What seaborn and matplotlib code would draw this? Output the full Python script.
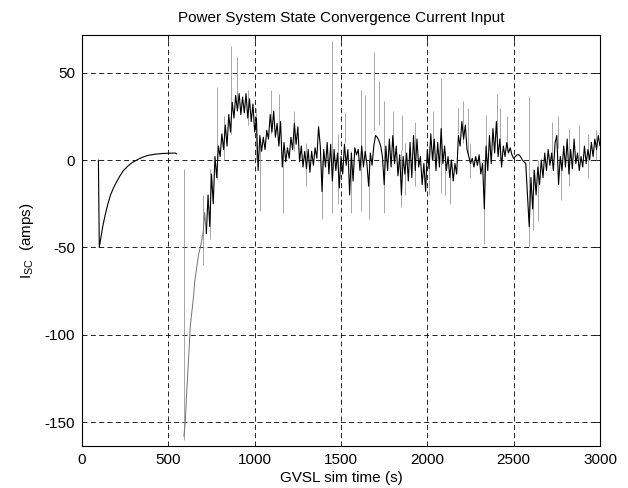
import numpy as np
import pandas as pd
import matplotlib
matplotlib.use("Agg")
import matplotlib.pyplot as plt
import seaborn as sns

# ---- data ----
# segment 1: initial exponential recovery
t_rise = [95, 100, 110, 120, 135, 150, 165, 182, 200, 220, 240, 265, 290, 320,
          350, 380, 420, 460, 500, 540, 548]
i_rise = [0, -50, -44, -38, -31, -25, -20, -16, -12.5, -9, -6, -3.5, -1.5, 0.2,
          1.6, 2.6, 3.3, 3.7, 3.9, 4.0, 3.5]

# segment 2: large transient and recovery (sparse, faint in the reference)
t_trans = [590, 598, 605, 617, 627, 636, 646, 652, 665, 675, 685, 695, 703, 710, 720]
i_trans = [-158, -150, -135, -114, -95, -87, -78, -70, -61, -54, -50, -45, -40, -30, -42]

# segment 3: noisy convergence, sampled every 10 s from 720 s to 3000 s
t_noise = list(range(720, 3001, 10))
i_noise = [
    -42, -20, -38, -8, -25, 2, -10, 8,
    2, 15, 6, 20, 8, 26, 16, 33, 24, 37,
    28, 38, 26, 36, 27, 38, 24, 35, 22, 32,
    16, 24, -6, 14, 5, 13, 6, 17, 12, 26,
    16, 28, 13, 21, 8, 22, -4, 10, -1, 7,
    1, 13, 6, 21, 9, 19, -1, 8, -4, 5,
    -5, 6, -7, 5, -3, 7, 1, 19, 8, -18,
    6, -4, 10, -8, 9, -12, 6, -6, 4, -16,
    2, -8, 9, -3, 6, -20, 4, -12, 7, 3,
    6, -6, 8, -4, 5, -2, -15, 4, -3, 8,
    14, 13, 11, 8, 2, -14, 8, -6, 12, -4,
    14, -2, 8, -9, 3, -20, 2, -8, 4, -12,
    10, -10, 14, -6, 12, -4, 2, -14, -2, -18,
    6, -5, 15, 0, 12, -6, 10, -4, 18, -2,
    8, -6, 2, -10, 0, -12, -2, -8, 14, 8,
    22, 12, 20, 6, 2, -2, 1, -4, 2, -3,
    3, -8, -2, -28, 8, -6, 14, -2, 18, 4,
    22, 2, 12, -4, 8, 2, 10, 4, 7, 3,
    1, 2, 3, 3, 2, 0, -1, -2, -20, -38,
    -10, -28, -6, -20, -4, -14, 0, -10, 4, -6,
    6, -3, 4, -6, 10, 14, -14, 2, -6, 8,
    -4, 12, -8, 6, -5, 12, -2, 4, -6, 2,
    -4, 8, -2, 6, 0, 10, 2, 12, 6, 14,
    8,
]

# thin, lighter spikes (time, low, high)
spike_t = [588, 700, 740, 781, 820, 860, 900, 960, 1010, 1030, 1095, 1140, 1162,
           1230, 1300, 1391, 1449, 1480, 1526, 1560, 1613, 1640, 1660, 1690,
           1720, 1748, 1800, 1845, 1855, 1870, 1930, 2010, 2030, 2077, 2100,
           2130, 2180, 2205, 2234, 2250, 2330, 2338, 2402, 2420, 2460, 2590,
           2610, 2640, 2720, 2754, 2774, 2820, 2880, 2930, 2975]
spike_lo = [-160, -60, -45, -11, 0, 15, 30, 20, 0, -29, 15, 10, -30,
            5, -15, -34, -30, -25, 10, -30, -29, 0, -34, 17,
            20, -30, 0, -27, 5, -20, -15, -20, 0, -19, -20,
            -25, 15, 10, 3, -10, -48, 5, 4, 0, 5, -50,
            -40, -35, 0, 7, -23, -15, 0, -10, 0]
spike_hi = [-5, -20, -5, 42, 25, 65, 59, 40, 30, 10, 40, 38, 5,
            28, 10, 0, 68, 15, 27, 5, 40, 37, 0, 62,
            45, 34, 28, 5, 26, 10, 22, 8, 28, 47, 5,
            0, 30, 34, 30, 10, 0, 26, 38, 30, 25, 36,
            -5, 0, 22, 25, 0, 18, 20, 15, 17]

x_ticks = [0, 500, 1000, 1500, 2000, 2500, 3000]
y_ticks = [-150, -100, -50, 0, 50]

title = "Power System State Convergence Current Input"
x_label = "GVSL sim time (s)"
y_label = r"$\mathregular{I_{SC}}$  (amps)"

# ---- build tables ----
df_main = pd.concat([
    pd.DataFrame({"t": t_rise, "i": i_rise, "seg": 0}),
    pd.DataFrame({"t": t_noise, "i": i_noise, "seg": 1}),
], ignore_index=True)
df_trans = pd.DataFrame({"t": t_trans, "i": i_trans})

sns.set_theme(style="white")
plt.rcParams["font.family"] = ["Liberation Sans", "DejaVu Sans"]
plt.rcParams["mathtext.fontset"] = "custom"
plt.rcParams["mathtext.rm"] = "Liberation Sans"
plt.rcParams["axes.unicode_minus"] = False

fig = plt.figure(figsize=(6.28, 4.88), dpi=100)
ax = fig.add_axes([0.1306, 0.0861, 0.8248, 0.8422])

ax.vlines(spike_t, spike_lo, spike_hi, color="0.6", lw=0.6, zorder=2)
sns.lineplot(data=df_trans, x="t", y="i", estimator=None, sort=False,
             color="0.45", lw=0.7, ax=ax, zorder=3, legend=False)
sns.lineplot(data=df_main, x="t", y="i", units="seg", estimator=None, sort=False,
             color="black", lw=0.8, ax=ax, zorder=4, legend=False)

ax.set_xlim(0, 3000)
ax.set_ylim(-163.5, 71.5)
ax.set_xticks(x_ticks)
ax.set_yticks(y_ticks)
ax.grid(True, color="black", lw=0.6, linestyle=(0, (6, 4)))
ax.set_axisbelow(True)
for s in ax.spines.values():
    s.set_visible(True)
    s.set_color("black")
    s.set_linewidth(0.8)
ax.tick_params(direction="in", top=True, right=True, length=4, width=0.6,
               labelsize=11, colors="black", pad=5)
ax.set_title(title, fontsize=11, pad=9, color="black")
ax.set_xlabel(x_label, fontsize=11, labelpad=3, color="black")
ax.set_ylabel(y_label, fontsize=11, labelpad=6, color="black")

fig.savefig("out.png", dpi=100, facecolor="white")
